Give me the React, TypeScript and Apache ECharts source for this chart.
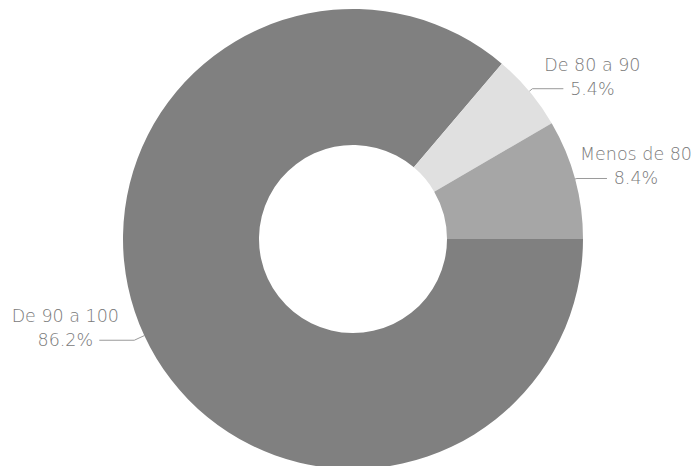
import React, { useEffect, useRef } from "react";
import * as echarts from "echarts";

const categories = ["De 90 a 100", "De 80 a 90", "Menos de 80"];
const values = [86.2, 5.4, 8.4];
const colors = ["#808080", "#e0e0e0", "#a6a6a6"];
const lineLengths = [11, 4, 2];
const lineLengths2 = [35, 31, 30];
const labelGaps = [10, 5, 5];

export default function App() {
  const ref = useRef<HTMLDivElement>(null);
  useEffect(() => {
    document.body.style.margin = "0";
    const chart = echarts.init(ref.current!, null, { renderer: "svg" });
    const font = "'DejaVu Sans', sans-serif";
    const txt = { fontFamily: font, fontWeight: 200, fontSize: 17.5, color: "#7a7a7a", width: 48, align: "center", lineHeight: 24 };
    chart.setOption({
      animation: false,
      backgroundColor: "#ffffff",
      series: [
        {
          type: "pie",
          center: [353, 239],
          radius: [94, 230],
          startAngle: 0,
          clockwise: true,
          avoidLabelOverlap: false,
          itemStyle: { borderWidth: 0 },
          label: {
            show: true,
            position: "outside",
            overflow: "none",
            color: "#7a7a7a",
            fontFamily: font,
            distanceToLabelLine: 5,
            formatter: "{n|{b}}\n{v|{c}%}\n{e| }",
            rich: {
              n: txt,
              v: txt,
              e: { fontSize: 17.5, width: 48, lineHeight: 24 },
            },
          },
          labelLine: {
            show: true,
            smooth: false,
            lineStyle: { color: "#9a9a9a", width: 1 },
          },
          data: categories.map((name, i) => ({
            name,
            value: values[i],
            itemStyle: { color: colors[i] },
            label: { distanceToLabelLine: labelGaps[i] },
            labelLine: { length: lineLengths[i], length2: lineLengths2[i] },
          })),
        },
      ],
    });
    return () => chart.dispose();
  }, []);
  return <div ref={ref} style={{ width: 696, height: 466 }} />;
}
